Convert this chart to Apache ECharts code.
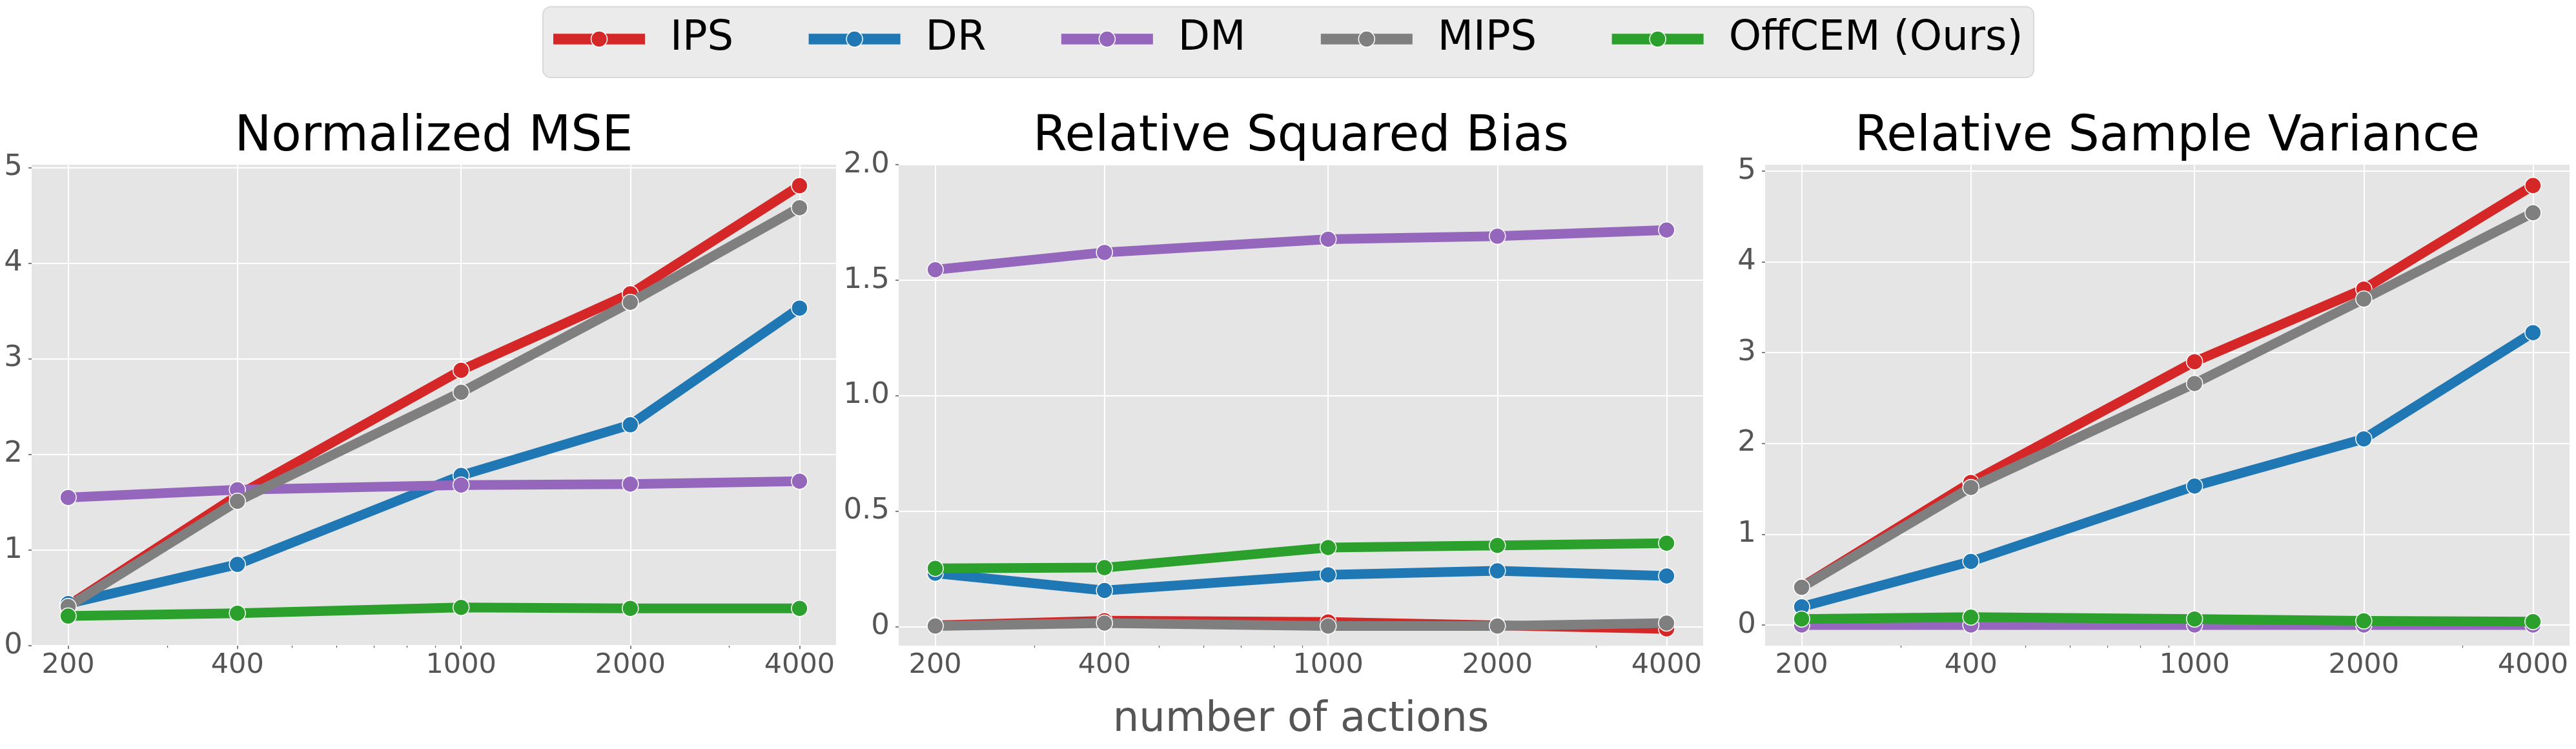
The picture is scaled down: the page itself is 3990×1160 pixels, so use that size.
<!DOCTYPE html>
<html><head><meta charset="utf-8">
<script src="https://cdn.jsdelivr.net/npm/echarts@6/dist/echarts.min.js"></script>
<style>html,body{margin:0;padding:0;background:#fff}#c{width:3990px;height:1160px}</style>
</head><body><div id="c"></div>
<script>
// ---- data ----
const actions = [200, 400, 1000, 2000, 4000];
const minorActions = [300, 500, 600, 700, 800, 900, 3000];
const methods = ['IPS', 'DR', 'DM', 'MIPS', 'OffCEM (Ours)'];
const colors = ['#d62728', '#1f77b4', '#9467bd', '#7f7f7f', '#2ca02c'];
const panelTitles = ['Normalized MSE', 'Relative Squared Bias', 'Relative Sample Variance'];
const xAxisTitle = 'number of actions';

const mseIPS    = [0.42, 1.57, 2.88, 3.68, 4.81];
const mseDR     = [0.44, 0.85, 1.78, 2.31, 3.53];
const mseDM     = [1.55, 1.63, 1.68, 1.69, 1.72];
const mseMIPS   = [0.41, 1.51, 2.65, 3.59, 4.58];
const mseOffCEM = [0.31, 0.34, 0.40, 0.39, 0.39];

const biasIPS    = [0.005, 0.025, 0.02, 0.005, -0.01];
const biasDR     = [0.231, 0.156, 0.224, 0.241, 0.219];
const biasDM     = [1.545, 1.62, 1.677, 1.69, 1.717];
const biasMIPS   = [0.002, 0.015, 0.002, 0.002, 0.015];
const biasOffCEM = [0.252, 0.255, 0.342, 0.351, 0.361];

const varIPS    = [0.42, 1.57, 2.90, 3.70, 4.84];
const varDR     = [0.20, 0.70, 1.53, 2.05, 3.22];
const varDM     = [0.0, 0.0, 0.0, 0.0, 0.0];
const varMIPS   = [0.415, 1.515, 2.66, 3.59, 4.54];
const varOffCEM = [0.066, 0.087, 0.066, 0.045, 0.037];

const mseTicks  = [0, 1, 2, 3, 4, 5];
const biasTicks = [0, 0.5, 1.0, 1.5, 2.0];
const varTicks  = [0, 1, 2, 3, 4, 5];

// ---- build ----
const panels = [
  {vals: [mseIPS, mseDR, mseDM, mseMIPS, mseOffCEM], ticks: mseTicks, min: 0, max: 5.03, fmt: v => String(Math.round(v))},
  {vals: [biasIPS, biasDR, biasDM, biasMIPS, biasOffCEM], ticks: biasTicks, min: -0.083, max: 2.0, fmt: v => v === 0 ? '0' : v.toFixed(1)},
  {vals: [varIPS, varDR, varDM, varMIPS, varOffCEM], ticks: varTicks, min: -0.228, max: 5.07, fmt: v => String(Math.round(v))}
];
const gridLefts = [49, 1392, 2734];
const gridW = 1246, gridTop = 255, gridBottomY = 1000;
const FONT = 'DejaVu Sans';
const TICKC = '#555555';
const lx = a => Math.log10(a);
const xMin = lx(actions[0]) - 0.065, xMax = lx(actions[actions.length - 1]) + 0.065;

const grids = [], xAxes = [], yAxes = [], series = [], graphics = [];
panels.forEach((p, pi) => {
  grids.push({left: gridLefts[pi], top: gridTop, width: gridW, height: gridBottomY - gridTop,
    show: true, backgroundColor: '#E5E5E5', borderWidth: 0});
  xAxes.push({type: 'value', gridIndex: pi, min: xMin, max: xMax, position: 'bottom',
    axisLine: {show: false},
    axisTick: {show: true, length: 5, lineStyle: {color: TICKC, width: 1.5}, customValues: actions.map(lx)},
    axisLabel: {show: true, customValues: actions.map(lx), formatter: v => String(Math.round(Math.pow(10, v))),
      color: TICKC, fontSize: 43, fontFamily: FONT, margin: 9},
    splitLine: {show: true, lineStyle: {color: '#FFFFFF', width: 2}}
  });
  yAxes.push({type: 'value', gridIndex: pi, min: p.min, max: p.max,
    axisLine: {show: false},
    axisTick: {show: true, length: 5, lineStyle: {color: TICKC, width: 1.5}, customValues: p.ticks},
    axisLabel: {show: true, customValues: p.ticks, formatter: p.fmt, color: TICKC, fontSize: 45, fontFamily: FONT, margin: 14},
    splitLine: {show: true, lineStyle: {color: '#FFFFFF', width: 2}}
  });
  p.vals.forEach((vals, mi) => {
    series.push({type: 'line', name: methods[mi], xAxisIndex: pi, yAxisIndex: pi,
      data: actions.map((a, i) => [lx(a), vals[i]]),
      symbol: 'circle', symbolSize: 25, showSymbol: true, z: 3 + mi,
      lineStyle: {color: colors[mi], width: 15, join: 'round', cap: 'butt'},
      itemStyle: {color: colors[mi], borderColor: '#FFFFFF', borderWidth: 1.5},
      emphasis: {disabled: true}, animation: false, silent: true
    });
  });
  graphics.push({type: 'text', x: gridLefts[pi] + gridW / 2, y: 213,
    style: {text: panelTitles[pi], fontSize: 76, fontFamily: FONT, fill: '#000000', textAlign: 'center', textVerticalAlign: 'middle', verticalAlign: 'middle', align: 'center'}});
});
// minor tick axes (log-scale minor ticks)
panels.forEach((p, pi) => {
  xAxes.push({type: 'value', gridIndex: pi, min: xMin, max: xMax, position: 'bottom',
    axisLine: {show: false}, axisLabel: {show: false}, splitLine: {show: false},
    axisTick: {show: true, length: 3, lineStyle: {color: TICKC, width: 1.2}, customValues: minorActions.map(lx)}
  });
});
graphics.push({type: 'text', x: 2015, y: 1115,
  style: {text: xAxisTitle, fontSize: 64, fontFamily: FONT, fill: '#555555', textAlign: 'center', textVerticalAlign: 'middle', verticalAlign: 'middle', align: 'center'}});

// ---- legend (matplotlib-style box, laid out from text widths) ----
const LFS = 64;
const mctx = document.createElement('canvas').getContext('2d');
mctx.font = LFS + 'px "' + FONT + '"';
const legendBox = {x: 841, y: 10.5, w: 2309, h: 109.5};
graphics.push({type: 'rect', z: 100, shape: {x: legendBox.x, y: legendBox.y, width: legendBox.w, height: legendBox.h, r: 12},
  style: {fill: '#EBEBEB', stroke: '#D9D9D9', lineWidth: 2}});
let cursor = 857;
const handleW = 142, handleH = 16.5, textOff = 181, itemGapL = 116.5, legendCY = 60.5;
methods.forEach((m, i) => {
  graphics.push({type: 'rect', z: 101, shape: {x: cursor, y: legendCY - handleH / 2, width: handleW, height: handleH},
    style: {fill: colors[i]}});
  graphics.push({type: 'circle', z: 102, shape: {cx: cursor + handleW / 2, cy: legendCY, r: 12.5},
    style: {fill: colors[i], stroke: '#FFFFFF', lineWidth: 1.5}});
  const tx = cursor + textOff;
  graphics.push({type: 'text', z: 102, x: tx, y: legendCY,
    style: {text: m, fontSize: LFS, fontFamily: FONT, fill: '#000000', textAlign: 'left', align: 'left', textVerticalAlign: 'middle', verticalAlign: 'middle'}});
  cursor = tx + mctx.measureText(m).width + itemGapL;
});

const chart = echarts.init(document.getElementById('c'), null, {renderer: 'canvas'});
chart.setOption({
  animation: false,
  backgroundColor: '#FFFFFF',
  grid: grids, xAxis: xAxes, yAxis: yAxes, series: series,
  graphic: graphics
});
</script></body></html>
